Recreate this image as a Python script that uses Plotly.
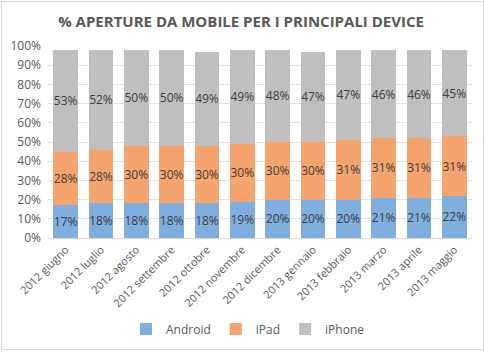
import plotly.graph_objects as go

months = ["2012 giugno", "2012 luglio", "2012 agosto", "2012 settembre", "2012 ottobre",
          "2012 novembre", "2012 dicembre", "2013 gennaio", "2013 febbraio", "2013 marzo",
          "2013 aprile", "2013 maggio"]
android = [17, 18, 18, 18, 18, 19, 20, 20, 20, 21, 21, 22]
ipad = [28, 28, 30, 30, 30, 30, 30, 30, 31, 31, 31, 31]
iphone = [53, 52, 50, 50, 49, 49, 48, 47, 47, 46, 46, 45]

series = [("Android", android, "#7FAEDF"),
          ("iPad", ipad, "#F4A46C"),
          ("iPhone", iphone, "#BFBFBF")]

fig = go.Figure()
for name, vals, col in series:
    fig.add_trace(go.Bar(
        x=months, y=vals, name=name, marker=dict(color=col, line=dict(width=0)),
        text=[f"{v}%" for v in vals], textposition="inside", insidetextanchor="middle",
        textangle=0, constraintext="none", cliponaxis=False,
        textfont=dict(color="#404040", size=12, family="Open Sans"),
        hoverinfo="skip"))

W, H = 485, 352
ml, mr, mt, mb = 48, 13, 46, 114
pw, ph = W - ml - mr, H - mt - mb

def px(x):
    return (x - ml) / pw

def py(y):
    return (H - mb - y) / ph

fig.update_layout(
    width=W, height=H, barmode="stack", bargap=0.31,
    margin=dict(l=ml, r=mr, t=mt, b=mb, autoexpand=False),
    paper_bgcolor="white", plot_bgcolor="white",
    font=dict(family="Open Sans", color="#595959", size=11),
    title=dict(text="<b>% APERTURE DA MOBILE PER I PRINCIPALI DEVICE</b>",
               x=0.497, xref="container", xanchor="center", y=1 - 22 / H, yanchor="middle",
               font=dict(size=15, color="#595959", family="Open Sans")),
    showlegend=True,
    legend=dict(orientation="h", x=px(248), xanchor="center", xref="paper",
                y=py(329), yanchor="middle", font=dict(size=12, color="#595959"),
                itemwidth=30, traceorder="normal"),
    xaxis=dict(tickangle=-45, showgrid=False, showline=True, linecolor="#D9D9D9",
               ticks="", tickfont=dict(size=11, color="#595959")),
    yaxis=dict(range=[0, 100], dtick=10, ticksuffix="%", showgrid=True,
               gridcolor="#E3E3E3", zeroline=False, showline=False, ticks="",
               ticklabelstandoff=6,
               tickfont=dict(size=12, color="#595959")),
    shapes=[dict(type="rect", xref="paper", yref="paper",
                 x0=px(1.5), x1=px(483.5), y0=py(349.5), y1=py(1.5),
                 line=dict(color="#D9D9D9", width=1), fillcolor="rgba(0,0,0,0)", layer="below")],
)

fig.write_html("out.html")
